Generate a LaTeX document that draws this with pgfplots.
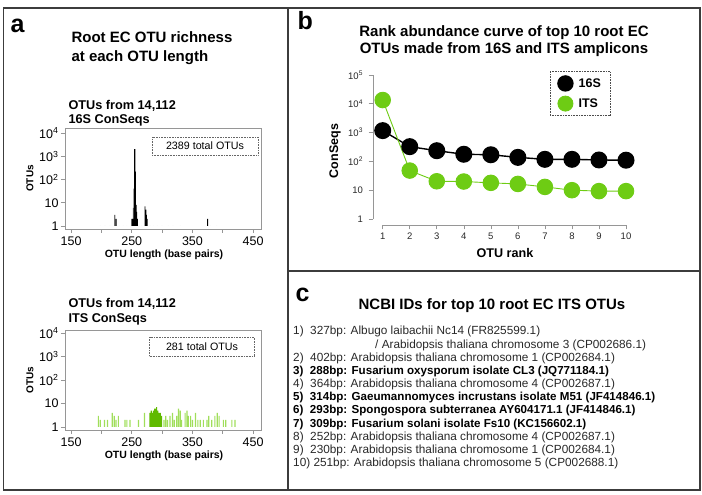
\documentclass[border=0pt]{standalone}
\usepackage{pgfplots}
\usepackage{pgfplotstable}
\pgfplotsset{compat=1.18}
\usepackage{fontspec}
\setmainfont{Liberation Sans}

\definecolor{framegray}{RGB}{60,60,60}
\definecolor{axisgray}{RGB}{150,150,150}
\definecolor{itsgreen}{RGB}{110,204,20}
\definecolor{itsdark}{RGB}{96,186,0}
\definecolor{itslight}{RGB}{160,222,90}
\definecolor{txtgray}{RGB}{40,40,40}
\newcommand{\fs}[1]{\fontsize{#1}{#1}\selectfont}

% OTU counts per length, 16S ConSeqs
\pgfplotstableread{
bp count
224 2
251 2
252 2
254 40
255 2000
256 220
257 8
258 4
259 2
273 5
274 3
275 2
375 2
}\histSixteenS
\pgfplotstableread{
bp count
222 3
250 2
253 6
272 7
}\histSixteenSgray
\pgfplotstableread{
bp count
198 1
206 1
214 1
230 1
236 1
242 1
262 1
266 1
280 1
286 1
292 1
300 1
310 1
318 1
330 1
380 1
390 1
}\histSixteenSone

% OTU counts per length, ITS ConSeqs
\pgfplotstableread{
bp count
195 3
198 2
205 2
210 2
218 4
221 3
224 2
228 3
239 2
242 2
247 2
261 2
271 4
303 2
306 3
309 2
313 3
317 4
320 2
324 3
327 6
330 5
332 2
338 4
341 5
343 3
347 3
350 2
355 4
359 2
363 2
368 2
374 2
377 3
382 2
387 3
391 4
394 3
401 2
405 2
415 2
420 2
}\histITSlight
\pgfplotstableread{
bp count
280 4
281 3
282 5
283 4
284 4
285 4
286 5
287 5
288 6
289 5
290 6
291 7
292 4
293 5
294 3
295 4
296 3
297 4
298 2
299 3
}\histITSdark

% Top 10 OTUs by rank
\pgfplotstableread{
rank s16 its
1 1170 13500
2 325 48
3 235 20.4
4 177 20
5 170 18
6 138 16.5
7 118 13
8 118 10
9 112 9.3
10 110 9.3
}\rankdata

\begin{document}
\begin{tikzpicture}[x=1pt,y=1pt]
\useasboundingbox (0,0) rectangle (702,495);

% panel frames
\draw[framegray, line width=1.3pt] (3.5,5) rectangle (700,487);
\draw[framegray, line width=1.3pt] (288,5) -- (288,487);
\draw[framegray, line width=1.3pt] (288,224) -- (700,224);

% ---------------- panel a ----------------
\node[anchor=base west, font=\bfseries\fs{25}] at (7,462) {a};
\node[anchor=base west, font=\bfseries\fs{15}] at (68,452) {Root EC OTU richness};
\node[anchor=base west, font=\bfseries\fs{15}] at (68,433) {at each OTU length};

\node[anchor=base west, font=\bfseries\fs{12.7}] at (65,385) {OTUs from 14,112};
\node[anchor=base west, font=\bfseries\fs{12.7}] at (65,371) {16S ConSeqs};

\begin{axis}[
    at={(65pt,266pt)}, anchor=south west,
    scale only axis, width=196pt, height=101pt,
    ymode=log,
    xmin=140, xmax=463, ymin=0.743, ymax=16400,
    axis line style={axisgray, line width=0.8pt},
    xtick={150,250,350,450}, xticklabels={150,250,350,450},
    minor xtick={200,300,400},
    ytick={1,10,100,1000,10000},
    yticklabels={1,10,10\textsuperscript{2},10\textsuperscript{3},10\textsuperscript{4}},
    yminorticks=false,
    tick pos=left, tick align=outside,
    major tick length=4pt, minor tick length=4pt,
    tick style={axisgray, line width=0.6pt},
    ticklabel style={font=\fs{12.5}, text=black},
    yticklabel style={xshift=1pt},
  ]
  \addplot[ybar, bar width=1.2pt, bar shift=0pt, fill=black!12, draw=none]
    table[x=bp, y=count] {\histSixteenSone};
  \addplot[ybar, bar width=1.2pt, bar shift=0pt, fill=black!55, draw=none]
    table[x=bp, y=count] {\histSixteenSgray};
  \addplot[ybar, bar width=1.2pt, bar shift=0pt, fill=black, draw=none]
    table[x=bp, y=count] {\histSixteenS};
\end{axis}
\node[draw=black!60, densely dotted, line width=0.6pt, minimum width=106pt, minimum height=18pt,
      inner sep=0pt, font=\fs{10.7}] at (205,349) {2389 total OTUs};
\node[rotate=90, font=\bfseries\fs{10}] at (30,316.5) {OTUs};
\node[font=\bfseries\fs{10.5}] at (164,240) {OTU length (base pairs)};

\node[anchor=base west, font=\bfseries\fs{12.7}] at (65,187) {OTUs from 14,112};
\node[anchor=base west, font=\bfseries\fs{12.7}] at (65,172) {ITS ConSeqs};

\begin{axis}[
    at={(65pt,65pt)}, anchor=south west,
    scale only axis, width=196pt, height=100pt,
    ymode=log,
    xmin=140, xmax=463, ymin=0.745, ymax=13400,
    axis line style={axisgray, line width=0.8pt},
    xtick={150,250,350,450}, xticklabels={150,250,350,450},
    minor xtick={200,300,400},
    ytick={1,10,100,1000,10000},
    yticklabels={1,10,10\textsuperscript{2},10\textsuperscript{3},10\textsuperscript{4}},
    yminorticks=false,
    tick pos=left, tick align=outside,
    major tick length=4pt, minor tick length=4pt,
    tick style={axisgray, line width=0.6pt},
    ticklabel style={font=\fs{12.5}, text=black},
    yticklabel style={xshift=1pt},
  ]
  \addplot[ybar, bar width=1.2pt, bar shift=0pt, fill=itslight, draw=none]
    table[x=bp, y=count] {\histITSlight};
  \addplot[ybar, bar width=1.2pt, bar shift=0pt, fill=itsdark, draw=none]
    table[x=bp, y=count] {\histITSdark};
\end{axis}
\node[draw=black!60, densely dotted, line width=0.6pt, minimum width=105pt, minimum height=19pt,
      inner sep=0pt, font=\fs{10.7}] at (202,148) {281 total OTUs};
\node[rotate=90, font=\bfseries\fs{10}] at (30,115) {OTUs};
\node[font=\bfseries\fs{10.5}] at (164,39) {OTU length (base pairs)};

% ---------------- panel b ----------------
\node[anchor=base west, font=\bfseries\fs{25}] at (294,465) {b};
\node[anchor=base, font=\bfseries\fs{15}] at (504,458.3) {Rank abundance curve of top 10 root EC};
\node[anchor=base, font=\bfseries\fs{15}] at (504,441.7) {OTUs made from 16S and ITS amplicons};

\begin{axis}[
  at={(373pt,270pt)}, anchor=south west,
  scale only axis, width=262.5pt, height=150pt,
  ymode=log, xmin=0.641, xmax=10.351, ymin=0.619, ymax=100000,
  axis x line*=bottom, axis y line*=left,
  axis line style={-, axisgray, line width=0.8pt},
  x axis line style={shorten <=9.7pt, shorten >=9.5pt},
  y axis line style={shorten <=6pt},
  xtick={1,...,10}, xticklabels={1,2,3,4,5,6,7,8,9,10},
  ytick={1,10,100,1000,10000,100000},
  yticklabels={1,10,10\textsuperscript{2},10\textsuperscript{3},10\textsuperscript{4},10\textsuperscript{5}},
  yminorticks=false,
  tick align=outside, major tick length=4.5pt,
  tick style={axisgray, line width=0.6pt},
  ticklabel style={font=\fs{9.5}, text=txtgray},
  yticklabel style={xshift=-2pt},
  xticklabel style={yshift=0.5pt},
  clip=false,
  legend cell align=left,
  legend image code/.code={\fill[#1] (0pt,0pt) circle (7.5pt);},
  legend style={at={(0.674,1.027)}, anchor=north west,
    draw=black!70, densely dotted, line width=0.6pt,
    font=\bfseries\fs{12.5}, row sep=4pt, column sep=3pt,
    inner xsep=7pt, inner ysep=4pt},
]
  \addplot[color=black, line width=1.4pt, mark=*, mark size=7.8pt]
    table[x=rank, y=s16] {\rankdata};
  \addlegendentry{16S}
  \addplot[color=itsgreen, line width=0.9pt, mark=*, mark size=7.8pt]
    table[x=rank, y=its] {\rankdata};
  \addlegendentry{ITS}
\end{axis}
\node[rotate=90, font=\bfseries\fs{12.5}] at (335,344) {ConSeqs};
\node[font=\bfseries\fs{12.6}] at (505,242) {OTU rank};

% ---------------- panel c ----------------
\node[anchor=base west, font=\bfseries\fs{25}] at (292,193) {c};
\node[anchor=base, font=\bfseries\fs{15}] at (492,185) {NCBI IDs for top 10 root EC ITS OTUs};

\begin{scope}[every node/.style={anchor=base west, inner sep=0pt, font=\fs{11.8}, text=txtgray}]
\node at (293,160.0) {1)\ \ 327bp: Albugo laibachii Nc14 (FR825599.1)};
\node at (375,146.8) {/ Arabidopsis thaliana chromosome 3 (CP002686.1)};
\node at (293,133.7) {2)\ \ 402bp: Arabidopsis thaliana chromosome 1 (CP002684.1)};
\node[font=\bfseries\fs{11.6}, text=black] at (293,120.5) {3)\ \ 288bp: Fusarium oxysporum isolate CL3 (JQ771184.1)};
\node at (293,107.3) {4)\ \ 364bp: Arabidopsis thaliana chromosome 4 (CP002687.1)};
\node[font=\bfseries\fs{11.6}, text=black] at (293,94.2) {5)\ \ 314bp: Gaeumannomyces incrustans isolate M51 (JF414846.1)};
\node[font=\bfseries\fs{11.6}, text=black] at (293,81.0) {6)\ \ 293bp: Spongospora subterranea AY604171.1 (JF414846.1)};
\node[font=\bfseries\fs{11.6}, text=black] at (293,67.8) {7)\ \ 309bp: Fusarium solani isolate Fs10 (KC156602.1)};
\node at (293,54.7) {8)\ \ 252bp: Arabidopsis thaliana chromosome 4 (CP002687.1)};
\node at (293,41.5) {9)\ \ 230bp: Arabidopsis thaliana chromosome 1 (CP002684.1)};
\node at (293,28.3) {10) 251bp: Arabidopsis thaliana chromosome 5 (CP002688.1)};
\end{scope}
\end{tikzpicture}
\end{document}
